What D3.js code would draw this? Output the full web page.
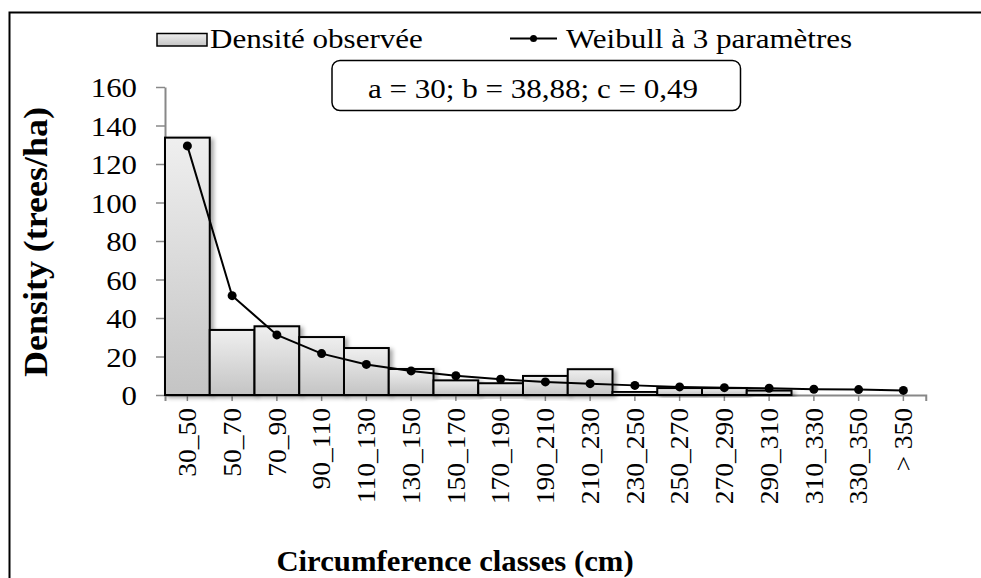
<!DOCTYPE html>
<html>
<head>
<meta charset="utf-8">
<script src="https://cdn.jsdelivr.net/npm/d3@7"></script>
<style>
  html, body { margin: 0; padding: 0; background: #fff; }
  svg { display: block; }
  text { font-family: "Liberation Serif", "Times New Roman", serif; fill: #000; }
</style>
</head>
<body>
<svg id="chart" width="981" height="578"></svg>
<script>
// Circumference classes (cm)
const categories = ["30_50", "50_70", "70_90", "90_110", "110_130", "130_150", "150_170",
  "170_190", "190_210", "210_230", "230_250", "250_270", "270_290", "290_310",
  "310_330", "330_350", "> 350"];
// Observed density (trees/ha)
const observed = [133.7, 33.8, 35.7, 30.1, 24.4, 13.5, 7.6, 6.1, 9.9, 13.4, 1.6, 3.6, 3.6, 2.3, 0, 0, 0];
// Fitted 3-parameter Weibull density (trees/ha)
const weibull = [129.4, 51.6, 31.2, 21.5, 15.9, 12.5, 10.0, 8.2, 6.8, 5.9, 5.0, 4.2, 3.8, 3.5, 3.0, 2.8, 2.4];
const yTicks = [0, 20, 40, 60, 80, 100, 120, 140, 160];
const legendLabels = ["Densité observée", "Weibull à 3 paramètres"];
const paramText = "a = 30; b = 38,88; c = 0,49";
const yTitle = "Density (trees/ha)";
const xTitle = "Circumference classes (cm)";

const svg = d3.select("#chart");
const plot = { left: 165, right: 925.75, top: 87, bottom: 395 };

const x = d3.scaleBand().domain(categories).range([plot.left, plot.right]).padding(0);
const y = d3.scaleLinear().domain([0, 160]).range([plot.bottom, plot.top]);

// Places a text at (px,py), optionally rotated, widened along its reading direction
function wideText(sel, px, py, rot, sx) {
  sel.attr("x", 0).attr("y", 0)
     .attr("transform", `translate(${px},${py})${rot ? ` rotate(${rot})` : ""} scale(${sx},1)`);
  return sel;
}

const defs = svg.append("defs");
const grad = defs.append("linearGradient").attr("id", "barFill")
  .attr("x1", 0).attr("y1", 0).attr("x2", 0).attr("y2", 1);
grad.append("stop").attr("offset", "0%").attr("stop-color", "#efefef");
grad.append("stop").attr("offset", "100%").attr("stop-color", "#c4c4c4");

const shadow = defs.append("filter").attr("id", "shadow")
  .attr("x", "-20%").attr("y", "-20%").attr("width", "150%").attr("height", "150%");
shadow.append("feDropShadow").attr("dx", 3).attr("dy", 2).attr("stdDeviation", 2)
  .attr("flood-color", "#000").attr("flood-opacity", 0.35);

// Outer frame
svg.append("rect").attr("x", 9.5).attr("y", 12.5).attr("width", 1000).attr("height", 600)
  .attr("fill", "none").attr("stroke", "#000").attr("stroke-width", 2);

// Y axis
const yAxis = svg.append("g").attr("transform", `translate(${plot.left},0)`)
  .call(d3.axisLeft(y).tickValues(yTicks).tickSize(9).tickSizeOuter(0));
yAxis.select(".domain").attr("stroke", "#888").attr("stroke-width", 2);
yAxis.selectAll(".tick line").attr("stroke", "#888").attr("stroke-width", 1.5);
yAxis.selectAll(".tick text").each(function () {
  const t = d3.select(this);
  t.attr("font-size", 28).attr("text-anchor", "end").attr("dy", "0.34em");
  wideText(t, -28, 0, 0, 1.1);
});

// X axis
const xAxis = svg.append("g").attr("transform", `translate(0,${plot.bottom})`)
  .call(d3.axisBottom(x).tickSize(6).tickSizeOuter(6));
xAxis.select(".domain").attr("stroke", "#888").attr("stroke-width", 2);
xAxis.selectAll(".tick line").attr("stroke", "#888").attr("stroke-width", 1.5);
xAxis.selectAll(".tick text").each(function () {
  const t = d3.select(this);
  t.attr("font-size", 25).attr("text-anchor", "end").attr("dy", "0.35em");
  wideText(t, 0, 13, -90, 1.1);
});

// Observed density bars
svg.append("g").selectAll("rect").data(observed).join("rect")
  .attr("x", (d, i) => x(categories[i]))
  .attr("width", x.bandwidth())
  .attr("y", d => y(d))
  .attr("height", d => y(0) - y(d))
  .attr("fill", "url(#barFill)")
  .attr("stroke", d => d > 0 ? "#000" : "none")
  .attr("stroke-width", 2)
  .attr("filter", "url(#shadow)");

// Weibull fit line with markers
const line = d3.line().x((d, i) => x(categories[i]) + x.bandwidth() / 2).y(d => y(d));
svg.append("path").datum(weibull).attr("d", line)
  .attr("fill", "none").attr("stroke", "#000").attr("stroke-width", 2);
svg.append("g").selectAll("circle").data(weibull).join("circle")
  .attr("cx", (d, i) => x(categories[i]) + x.bandwidth() / 2)
  .attr("cy", d => y(d)).attr("r", 4.5).attr("fill", "#000");

// Legend
const leg = svg.append("g");
leg.append("rect").attr("x", 157).attr("y", 33.5).attr("width", 50).attr("height", 12.5)
  .attr("fill", "url(#barFill)").attr("stroke", "#000").attr("stroke-width", 1.5);
wideText(leg.append("text").attr("font-size", 27).text(legendLabels[0]), 210, 47.5, 0, 1.15);
leg.append("line").attr("x1", 510).attr("x2", 557).attr("y1", 38.5).attr("y2", 38.5)
  .attr("stroke", "#000").attr("stroke-width", 2);
leg.append("circle").attr("cx", 533.5).attr("cy", 38.5).attr("r", 3.5).attr("fill", "#000");
wideText(leg.append("text").attr("font-size", 27).text(legendLabels[1]), 566, 47.5, 0, 1.15);

// Fitted parameter box
svg.append("rect").attr("x", 332).attr("y", 60.5).attr("width", 408.5).attr("height", 50)
  .attr("rx", 8).attr("ry", 8).attr("fill", "#fff").attr("stroke", "#000").attr("stroke-width", 1.5);
wideText(svg.append("text").attr("font-size", 27).attr("text-anchor", "middle").text(paramText),
  533, 97.5, 0, 1.15);

// Axis titles
wideText(svg.append("text").attr("font-size", 33).attr("font-weight", "bold")
  .attr("text-anchor", "middle").text(yTitle), 47, 242, -90, 1.09);
wideText(svg.append("text").attr("font-size", 29).attr("font-weight", "bold")
  .attr("text-anchor", "middle").text(xTitle), 455, 571, 0, 1.06);
</script>
</body>
</html>
